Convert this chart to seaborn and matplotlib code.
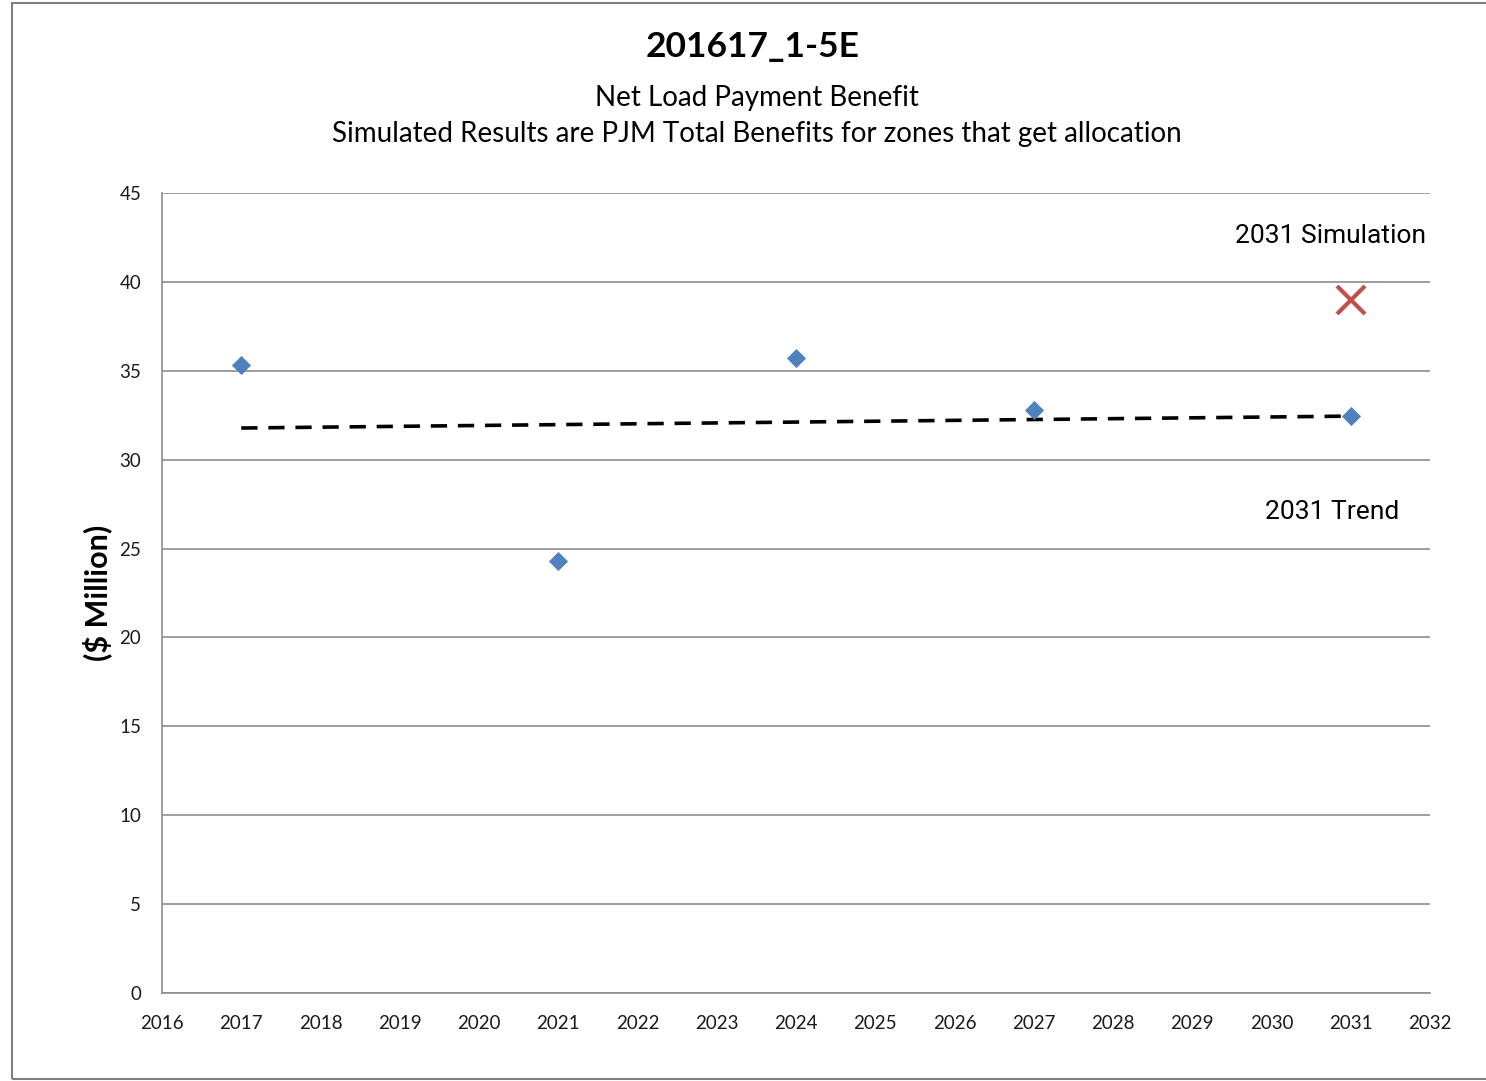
import matplotlib
matplotlib.use("Agg")
import matplotlib.pyplot as plt
from matplotlib.patches import Rectangle
import seaborn as sns
import pandas as pd

# values
years = [2017, 2021, 2024, 2027, 2031]
benefit = [35.3, 24.3, 35.7, 32.8, 32.45]
trend_years = [2017, 2031]
trend_values = [31.78, 32.45]
sim_year = [2031]
sim_value = [39.0]

xticks = list(range(2016, 2033))
yticks = list(range(0, 50, 5))

blue = '#4F81BD'
red = '#C0504D'
grid_gray = '#8C8C8C'

sns.set_style('white')
plt.rcParams['font.family'] = ['Lato', 'DejaVu Sans']

fig = plt.figure(figsize=(14.86, 10.81), dpi=100)
ax = fig.add_axes([162 / 1486, 1 - 993 / 1081, (1430 - 162) / 1486, (993 - 193) / 1081])

pts = pd.DataFrame({'year': years, 'benefit': benefit})
trend = pd.DataFrame({'year': trend_years, 'value': trend_values})
sim = pd.DataFrame({'year': sim_year, 'value': sim_value})

sns.lineplot(data=trend, x='year', y='value', ax=ax, color='black', linewidth=2.6,
             linestyle=(0, (4.5, 3)), zorder=3)
sns.scatterplot(data=pts, x='year', y='benefit', ax=ax, marker='D', s=95, color=blue,
                edgecolor=blue, linewidth=0, zorder=4)
ax.plot(sim['year'], sim['value'], linestyle='none', marker='x', markersize=20,
        markeredgewidth=3, color=red, zorder=4)

ax.set_xlim(2016, 2032)
ax.set_ylim(0, 45)
ax.set_xticks(xticks)
ax.set_yticks(yticks)
ax.tick_params(axis='both', labelsize=13.5, labelcolor='#1a1a1a', length=0)
ax.tick_params(axis='x', direction='out', length=7, width=1.2, color=grid_gray, pad=9)
ax.tick_params(axis='y', direction='out', length=7, width=1.2, color=grid_gray, pad=8)

ax.yaxis.grid(True, color=grid_gray, linewidth=1.2)
ax.set_axisbelow(True)
for side in ['top', 'right']:
    ax.spines[side].set_visible(False)
for side in ['left', 'bottom']:
    ax.spines[side].set_color(grid_gray)
    ax.spines[side].set_linewidth(1.2)

ax.set_xlabel('')
ax.set_ylabel('($ Million)', fontsize=22, fontweight='bold', labelpad=5, color='black')

ax.text(2030.75, 42.6, '2031 Simulation', ha='center', va='center', fontsize=19,
        family=['Roboto', 'DejaVu Sans'], color='black')
ax.text(2030.76, 27.05, '2031 Trend', ha='center', va='center', fontsize=19,
        family=['Roboto', 'DejaVu Sans'], color='black')

fig.text(753 / 1486, 1 - 47 / 1081, '201617_1-5E', ha='center', va='center',
         fontsize=25.5, fontweight='bold', color='black')
fig.text(757 / 1486, 1 - 98 / 1081, 'Net Load Payment Benefit', ha='center', va='center',
         fontsize=20, color='black')
fig.text(757 / 1486, 1 - 134 / 1081,
         'Simulated Results are PJM Total Benefits for zones that get allocation',
         ha='center', va='center', fontsize=20, color='black')

fig.patches.append(Rectangle((12 / 1486, 2 / 1081), 1.2, 1 - 5 / 1081,
                             transform=fig.transFigure, fill=False,
                             edgecolor='#7F7F7F', linewidth=1.5))

fig.savefig('out.png', dpi=100)
plt.close()
